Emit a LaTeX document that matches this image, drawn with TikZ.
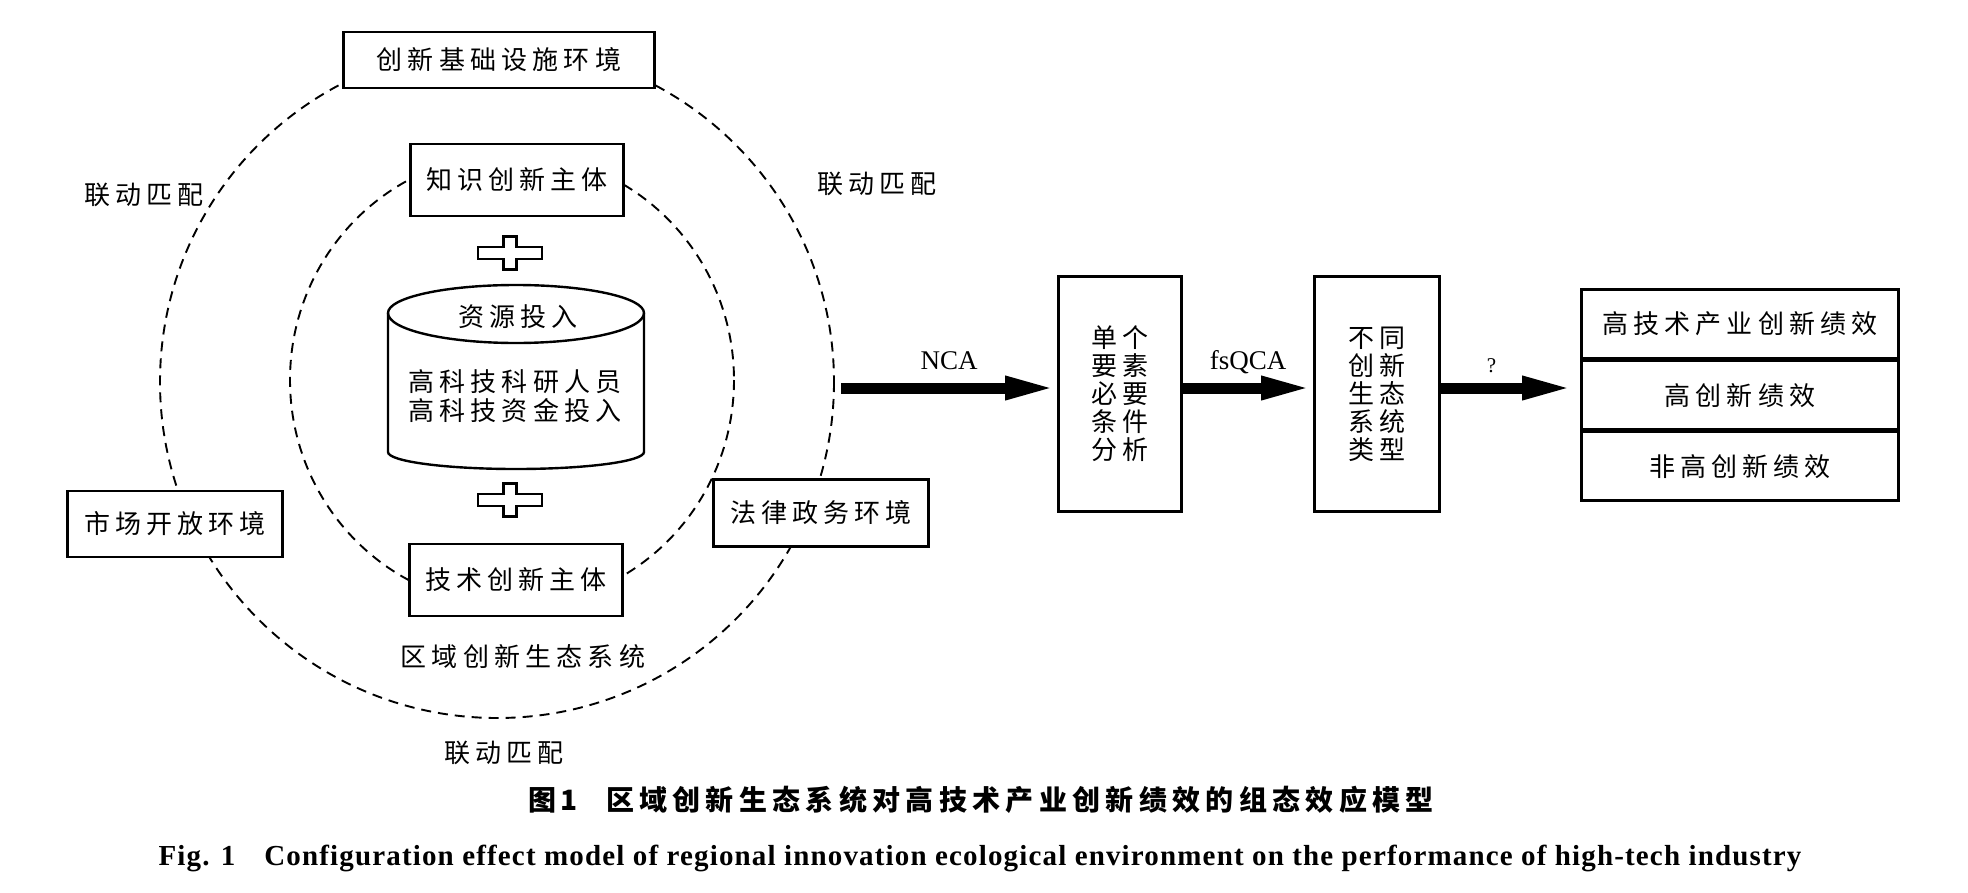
\documentclass[tikz,border=0pt]{standalone}
\usepackage{fontspec}
\setmainfont{Liberation Serif}
\newfontfamily\cjkfont[LetterSpace=20]{Noto Sans CJK SC}
\newfontfamily\cjkcapfont[LetterSpace=19]{Noto Sans CJK SC}
\newfontfamily\capfont[LetterSpace=4]{Liberation Serif}
\usetikzlibrary{arrows.meta}
\usetikzlibrary{positioning}

\begin{document}
\begin{tikzpicture}[x=1pt,y=-1pt,>={Triangle[length=52pt,width=21pt]}]
			\tikzset{box/.style = {shape=rectangle, draw, line width=2.6pt, fill=white, inner sep=0pt, align=center, font=\fontsize{26}{28}\cjkfont}}
			\tikzset{ring/.style = {line width=1.9pt, dash pattern=on 10pt off 7pt}}
			\tikzset{linktext/.style = {align=center, font=\fontsize{26}{29}\cjkfont}}
			\tikzset{bigarrow/.style = {->, line width=11pt}}
			\tikzset{arrowtext/.style = {midway, above=10pt, text depth=0pt, font=\fontsize{27}{30}\selectfont}}
			\tikzset{plussign/.pic = {\draw[line width=2.2pt, fill=white] (-32,-6) -- (-6.5,-6) -- (-6.5,-16.5) -- (6.5,-16.5) -- (6.5,-6) -- (32,-6) -- (32,6) -- (6.5,6) -- (6.5,16.5) -- (-6.5,16.5) -- (-6.5,6) -- (-32,6) -- cycle;}}
			\useasboundingbox (0,0) rectangle (1968,892);
			
			\draw[ring] (497,382) ellipse [x radius=337, y radius=336];
			\draw[ring] (512,380) ellipse [x radius=222, y radius=226];
			
			\node[box, minimum width=311, minimum height=56] (INFRA) at (499,60) {创新基础设施环境};
			\node[box, minimum width=213, minimum height=72] (KNOW) at (517,180) {知识创新主体};
			\node[box, minimum width=213, minimum height=72] (TECH) at (516,580) {技术创新主体};
			\node[box, minimum width=215, minimum height=66] (MARKET) at (175,524) {市场开放环境};
			\node[box, minimum width=215, minimum height=67] (LAW) at (821,513) {法律政务环境};
			
			\pic at (510,253) {plussign};
			\pic at (510,500) {plussign};
			
			\coordinate (CYL) at (516,313);
			\draw[line width=2.4pt, fill=white] (CYL) ++(-128,0) -- ++(0,139) arc[start angle=180, end angle=0, x radius=128, y radius=17] -- ++(0,-139) arc[start angle=0, end angle=-180, x radius=128, y radius=28] -- cycle;
			\draw[line width=2.4pt] (CYL) ++(-128,0) arc[start angle=180, end angle=0, x radius=128, y radius=30];
			\node[linktext] (RESTOP) at (518,317) {资源投入};
			\node[linktext] (RES) at (515,396) {高科技科研人员\\高科技资金投入};
			
			\node[linktext] (LINKL) at (144,195) {联动匹配};
			\node[linktext] (LINKR) at (877,184) {联动匹配};
			\node[linktext] (LINKB) at (504,753) {联动匹配};
			\node[linktext] (SYSTEM) at (523,657) {区域创新生态系统};
			
			\node[box, minimum width=123, minimum height=235] (SINGLE) at (1120,394) {单个\\要素\\必要\\条件\\分析};
			\node[box, minimum width=125, minimum height=235] (TYPES) at (1377,394) {不同\\创新\\生态\\系统\\类型};
			\node[box, minimum width=317, minimum height=69] (PERF) at (1740,324) {高技术产业创新绩效};
			\node[box, minimum width=317, minimum height=68, below=0pt of PERF] (HIGH) {高创新绩效};
			\node[box, minimum width=317, minimum height=69, below=0pt of HIGH] (NONHIGH) {非高创新绩效};
			
			\coordinate (SYSOUT) at (841,388);
			\draw[bigarrow] (SYSOUT) -- (SINGLE.west |- SYSOUT) node[arrowtext] {NCA};
			\draw[bigarrow] (SINGLE.east |- SYSOUT) -- (TYPES.west |- SYSOUT) node[arrowtext] {fsQCA};
			\draw[bigarrow] (TYPES.east |- SYSOUT) -- ([xshift=-6pt]HIGH.west |- SYSOUT) node[arrowtext, pos=0.38, above=7pt, font=\fontsize{21}{24}\selectfont] {?};
			
			\node[font=\fontsize{28}{30}\cjkcapfont\bfseries] (CAPCN) at (981,800) {图\,1\quad 区域创新生态系统对高技术产业创新绩效的组态效应模型};
			\node[font=\fontsize{29}{32}\capfont\bfseries] (CAPEN) at (980,858) {Fig. 1\quad Configuration effect model of regional innovation ecological environment on the performance of high-tech industry};
\end{tikzpicture}
\end{document}
